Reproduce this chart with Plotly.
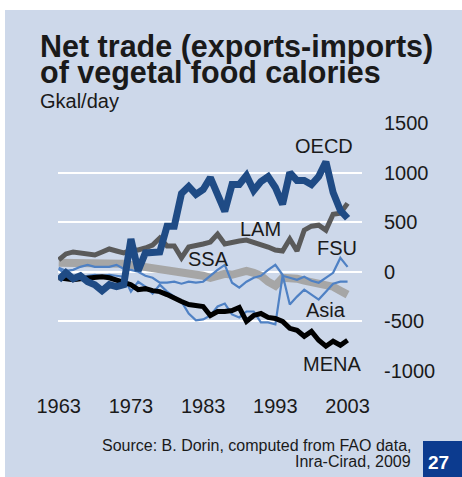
import plotly.graph_objects as go

years = list(range(1963, 2004))

oecd = [-80, -10, -70, -40, -100, -130, -190, -130, -150, -130,
        330, 10, 190, 190, 200, 460, 460, 790, 860, 780,
        830, 950, 760, 610, 880, 880, 970, 820, 910, 960,
        850, 680, 1000, 920, 920, 880, 960, 1110, 800, 620, 540]

lam = [120, 180, 200, 190, 180, 170, 200, 230, 210, 190,
       220, 220, 240, 270, 340, 260, 260, 140, 250, 260,
       280, 300, 380, 280, 300, 310, 320, 300, 270, 250,
       220, 210, 330, 210, 420, 460, 470, 420, 580, 590, 690]

ssa = [90, 90, 100, 90, 100, 90, 90, 90, 80, 80,
       70, 60, 60, 50, 40, 30, 10, 0, -10, -30,
       -40, -60, -40, -20, -30, -10, 10, -10, -40, -100,
       -140, -60, -60, -70, -90, -100, -110, -120, -150, -190, -230]

fsu = [30, -30, -40, -60, -40, -30, -40, -30, -40, -50,
       -200, -100, -150, -220, -130, -200, -250, -300, -420, -490,
       -480, -440, -350, -320, -430, -460, -400, -400, -510, -510,
       -530, -40, -60, -80, -50, -90, -110, -60, -10, 140, 50]

asia = [40, 10, 20, 50, 70, 50, 50, 50, 70, 30,
        20, 0, -40, -60, -110, -110, -100, -120, -100, -110,
        -100, -40, 20, 70, -110, -160, -100, -60, -40, 20,
        70, -30, -330, -250, -180, -230, -280, -200, -120, -100, -100]

mena = [-60, -70, -80, -70, -60, -50, -50, -60, -80, -100,
        -130, -180, -170, -190, -200, -230, -270, -300, -330, -340,
        -350, -440, -400, -400, -390, -360, -500, -440, -420, -460,
        -470, -500, -570, -590, -650, -600, -690, -750, -700, -740, -690]

x_ticks = [1963, 1973, 1983, 1993, 2003]
y_ticks = [-1000, -500, 0, 500, 1000, 1500]

BG = "#cdd8ea"
TXT = "#1a1a1a"
FONT = "Liberation Sans"

fig = go.Figure()
series = [
    ("SSA", ssa, "#a6a6a6", 8),
    ("LAM", lam, "#5a5a5a", 5),
    ("Asia", asia, "#4f81c4", 2.2),
    ("FSU", fsu, "#4f81c4", 2.2),
    ("MENA", mena, "#000000", 5),
    ("OECD", oecd, "#1f4b85", 7),
]
for name, vals, col, w in series:
    fig.add_trace(go.Scatter(x=years, y=vals, mode="lines", name=name,
                             line=dict(color=col, width=w),
                             showlegend=False, hoverinfo="skip"))

# series labels (data coords)
labels = [("OECD", 1999.8, 1267), ("LAM", 1991.0, 435), ("SSA", 1983.8, 126),
          ("FSU", 2001.6, 242), ("Asia", 2000.0, -380), ("MENA", 2000.9, -932)]
for t, lx, ly in labels:
    fig.add_annotation(x=lx, y=ly, xref="x", yref="y", text=t, showarrow=False,
                       font=dict(family=FONT, size=20, color=TXT),
                       xanchor="center", yanchor="middle")

L, R, T, B = 58, 100, 122, 105
W, H = 462, 477
pw, ph = W - L - R, H - T - B

def px(xp):
    return (xp - L) / pw

def py(yp):
    return (H - B - yp) / ph

fig.add_annotation(x=px(38), y=py(46.7), xref="paper", yref="paper",
                   text="Net trade (exports-imports)", showarrow=False,
                   font=dict(family=FONT, size=30.5, color=TXT, weight="bold"),
                   xanchor="left", yanchor="middle")
fig.add_annotation(x=px(38), y=py(72.3), xref="paper", yref="paper",
                   text="of vegetal food calories", showarrow=False,
                   font=dict(family=FONT, size=30.5, color=TXT, weight="bold"),
                   xanchor="left", yanchor="middle")
fig.add_annotation(x=px(38), y=py(101.3), xref="paper", yref="paper",
                   text="Gkal/day", showarrow=False,
                   font=dict(family=FONT, size=20, color=TXT),
                   xanchor="left", yanchor="middle")
fig.add_annotation(x=px(413), y=py(445), xref="paper", yref="paper",
                   text="Source: B. Dorin, computed from FAO data,", showarrow=False,
                   font=dict(family=FONT, size=16, color=TXT),
                   xanchor="right", yanchor="middle")
fig.add_annotation(x=px(413), y=py(461.5), xref="paper", yref="paper",
                   text="Inra-Cirad, 2009", showarrow=False,
                   font=dict(family=FONT, size=16, color=TXT),
                   xanchor="right", yanchor="middle")

# white outer strips and page-number box
fig.add_shape(type="rect", xref="paper", yref="paper", layer="below",
              x0=px(0), x1=px(W), y0=py(0), y1=py(10),
              fillcolor="white", line_width=0)
fig.add_shape(type="rect", xref="paper", yref="paper", layer="below",
              x0=px(0), x1=px(5), y0=py(0), y1=py(H),
              fillcolor="white", line_width=0)
fig.add_shape(type="rect", xref="paper", yref="paper", layer="above",
              x0=px(423), x1=px(W), y0=py(441), y1=py(H),
              fillcolor="#0c3b8f", line_width=0)
fig.add_annotation(x=px(438), y=py(462.7), xref="paper", yref="paper",
                   text="27", showarrow=False,
                   font=dict(family=FONT, size=19, color="white", weight="bold"),
                   xanchor="center", yanchor="middle")

fig.update_layout(
    width=W, height=H,
    margin=dict(l=L, r=R, t=T, b=B, pad=0),
    paper_bgcolor=BG, plot_bgcolor=BG,
    showlegend=False,
    font=dict(family=FONT, size=20, color=TXT),
    xaxis=dict(range=[1962.9, 2005], tickvals=x_ticks,
               ticktext=[str(v) for v in x_ticks],
               showgrid=False, zeroline=False, showline=False,
               ticks="", ticklabelstandoff=20,
               tickfont=dict(family=FONT, size=20, color=TXT)),
    yaxis=dict(range=[-1010, 1510], tickvals=y_ticks,
               ticktext=[str(v) for v in y_ticks],
               side="right", showgrid=True, gridcolor="white", gridwidth=2,
               zeroline=False, showline=False, ticks="",
               ticklabelstandoff=21,
               tickfont=dict(family=FONT, size=20, color=TXT)),
)

fig.write_html("out.html", config={"displayModeBar": False},
               post_script="document.body.style.margin='0';document.body.style.overflow='hidden';")
